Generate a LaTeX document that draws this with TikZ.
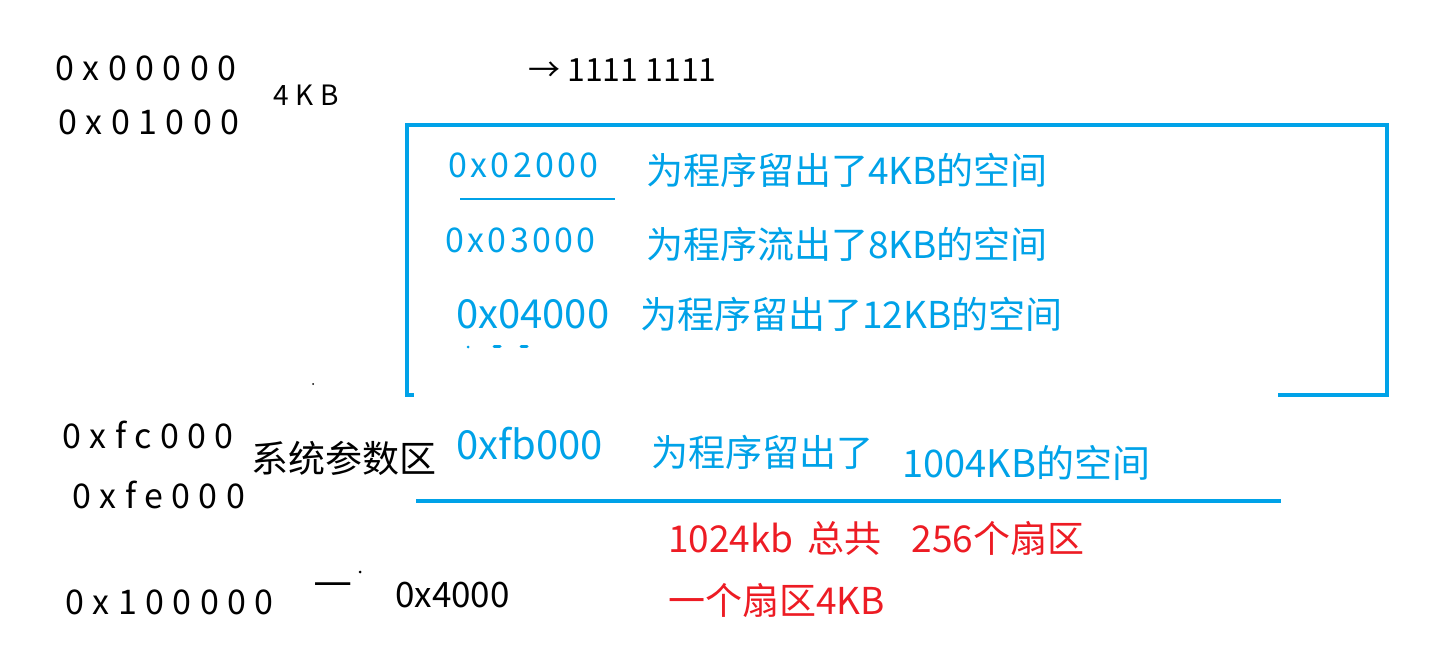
\documentclass[tikz,border=0pt]{standalone}
\usepackage{fontspec}
\newfontfamily\cjk{Noto Sans CJK SC}
\newfontfamily\cjkhand[LetterSpace=25]{Noto Sans CJK SC}
\newfontfamily\cjkhandb[LetterSpace=10]{Noto Sans CJK SC}
\definecolor{pblue}{HTML}{00A2E8}
\definecolor{pred}{HTML}{ED1C24}
\begin{document}
\begin{tikzpicture}[x=1pt,y=-1pt,
  txt/.style={anchor=west,inner sep=0pt,font=\cjk\fontsize{37}{42}\selectfont},
  big/.style={anchor=west,inner sep=0pt,font=\cjk\fontsize{40}{44}\selectfont},
  hand/.style={anchor=west,inner sep=0pt,font=\cjkhand\fontsize{34}{38}\selectfont},
  handb/.style={anchor=west,inner sep=0pt,font=\cjkhandb\fontsize{34}{38}\selectfont},
  bl/.style={text=pblue},
  rd/.style={text=pred},
  boxline/.style={draw=pblue,line width=4.5pt},
  thinline/.style={draw=pblue,line width=2pt},
  dotline/.style={draw=pblue,line width=3pt,line cap=round}]
\useasboundingbox (0,0) rectangle (1434,652);
% handwritten black notes
\node[hand] (h1) at (55,68) {0x00000};
\node[hand] (h2) at (58,122) {0x01000};
\node[anchor=west,inner sep=0pt,font=\cjkhand\fontsize{28}{30}\selectfont] (h3) at (273,95) {4KB};
\node[anchor=west,inner sep=0pt,font=\cjk\fontsize{32}{36}\selectfont] (h4) at (528,70) {→ 1111 1111};
\node[hand] (h5) at (62,435) {0xfc000};
\node[hand] (h6) at (72,495) {0xfe000};
\node[hand] (h7) at (65,602) {0x100000};
\node[anchor=west,inner sep=0pt,font=\cjk\fontsize{44}{44}\selectfont] (h8) at (313,590) {—};
\fill (360,572) circle (1.5pt);
\fill (313,384) circle (1pt);
\node[anchor=west,inner sep=0pt,font=\cjk\fontsize{35}{38}\selectfont] (h9) at (395,595) {0x4000};
% blue box
\coordinate (b1) at (1278,395);
\coordinate (b2) at (1387,395);
\coordinate (b3) at (1387,125);
\coordinate (b4) at (407,125);
\coordinate (b5) at (407,395);
\coordinate (b6) at (414,395);
\draw[boxline] (b1) -- (b2) -- (b3) -- (b4) -- (b5) -- (b6);
% box contents
\node[handb,bl] (a1) at (448,165) {0x02000};
\coordinate (u1) at (460,199);
\coordinate (u2) at (615,199);
\draw[thinline] (u1) -- (u2);
\node[txt,bl] (t1) at (646,170) {为程序留出了4KB的空间};
\node[handb,bl] (a2) at (445,240) {0x03000};
\node[txt,bl] (t2) at (646,244) {为程序流出了8KB的空间};
\node[big,bl] (a3) at (456,314) {0x04000};
\node[txt,bl] (t3) at (640,314) {为程序留出了12KB的空间};
\coordinate (d1) at (468,347);
\coordinate (d2a) at (494,346);
\coordinate (d2b) at (500,346);
\coordinate (d3a) at (521,346);
\coordinate (d3b) at (527,346);
\fill[pblue] (d1) circle (1.5pt);
\draw[dotline] (d2a) -- (d2b);
\draw[dotline] (d3a) -- (d3b);
% lower section
\node[txt] (s1) at (251,458) {系统参数区};
\node[big,bl] (a4) at (456,444) {0xfb000};
\node[txt,bl] (t4) at (651,452) {为程序留出了};
\node[anchor=west,inner sep=0pt,font=\cjk\fontsize{38}{42}\selectfont,bl] (t5) at (902,463) {1004KB的空间};
\coordinate (l1) at (416,501);
\coordinate (l2) at (1281,501);
\draw[boxline] (l1) -- (l2);
\node[txt,rd] (r1) at (668,538) {1024kb\hspace{14pt}总共\hspace{30pt}256个扇区};
\node[txt,rd] (r2) at (668,600) {一个扇区4KB};
\end{tikzpicture}
\end{document}
